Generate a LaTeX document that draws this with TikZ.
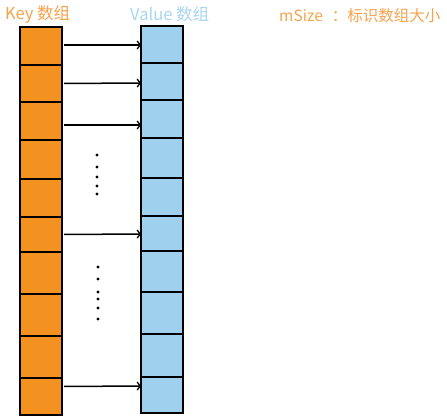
\documentclass[tikz,border=0pt]{standalone}
\usepackage{fontspec}
\setmainfont{Noto Sans CJK SC}
\usetikzlibrary{arrows.meta}
\definecolor{keyfill}{HTML}{F39221}
\definecolor{valfill}{HTML}{9FD0EE}
\definecolor{keytext}{HTML}{F7A24C}
\definecolor{valtext}{HTML}{A9D6F0}
\tikzset{
  cellbox/.style={draw=black, line width=2pt, minimum width=42pt, anchor=north west, inner sep=0pt, outer sep=0pt},
  keycell/.style={cellbox, fill=keyfill},
  valcell/.style={cellbox, fill=valfill},
  arr/.style={line width=1.5pt, -{Straight Barb[length=3pt,width=8pt,line width=1.3pt]}},
  dotmark/.style={circle, fill=black, inner sep=0pt, minimum size=3.2pt},
  title/.style={anchor=west, inner sep=0pt, font=\fontsize{16.5pt}{19pt}\selectfont},
  subtitle/.style={anchor=west, inner sep=0pt, font=\fontsize{15.5pt}{19pt}\selectfont}
}
\begin{document}
\begin{tikzpicture}[x=1pt,y=-1pt]
\useasboundingbox (0,0) rectangle (447,419);
\fill[white] (0,0) rectangle (447,419);
\node[title, text=keytext] (tk) at (5,14) {Key 数组};
\node[title, text=valtext] (tv) at (130,14) {Value 数组};
\node[subtitle, text=keytext] (ts) at (279,16) {mSize\hspace{9pt}：标识数组大小};
\foreach \t/\b [count=\i] in {27/65,65/102,102/140,140/179,179/217,217/252,252/294,294/336,336/378,378/415}
  \node[keycell, minimum height={(\b-\t)*1pt}] (k\i) at (20,\t) {};
\foreach \t/\b [count=\i] in {26/63,63/100,100/138,138/178,178/216,216/251,251/292,292/334,334/377,377/413}
  \node[valcell, minimum height={(\b-\t)*1pt}] (v\i) at (141,\t) {};
\draw[arr] ([xshift=2pt,yshift=1pt]k1.east) -- ([yshift=-0.5pt]v1.west);
\draw[arr] ([xshift=2pt,yshift=0pt]k2.east) -- ([yshift=-1.5pt]v2.west);
\draw[arr] ([xshift=2pt,yshift=-4pt]k3.east) -- ([yshift=-6pt]v3.west);
\draw[arr] ([xshift=2pt,yshift=0pt]k6.east) -- ([yshift=-0.5pt]v6.west);
\draw[arr] ([xshift=2pt,yshift=10pt]k10.east) -- ([yshift=9pt]v10.west);
\foreach \y [count=\j] in {155,167,177,186,194}
  \node[dotmark] (da\j) at (97,\y) {};
\foreach \y [count=\j] in {267,279,292,299,308,319}
  \node[dotmark] (db\j) at (98,\y) {};
\end{tikzpicture}
\end{document}
